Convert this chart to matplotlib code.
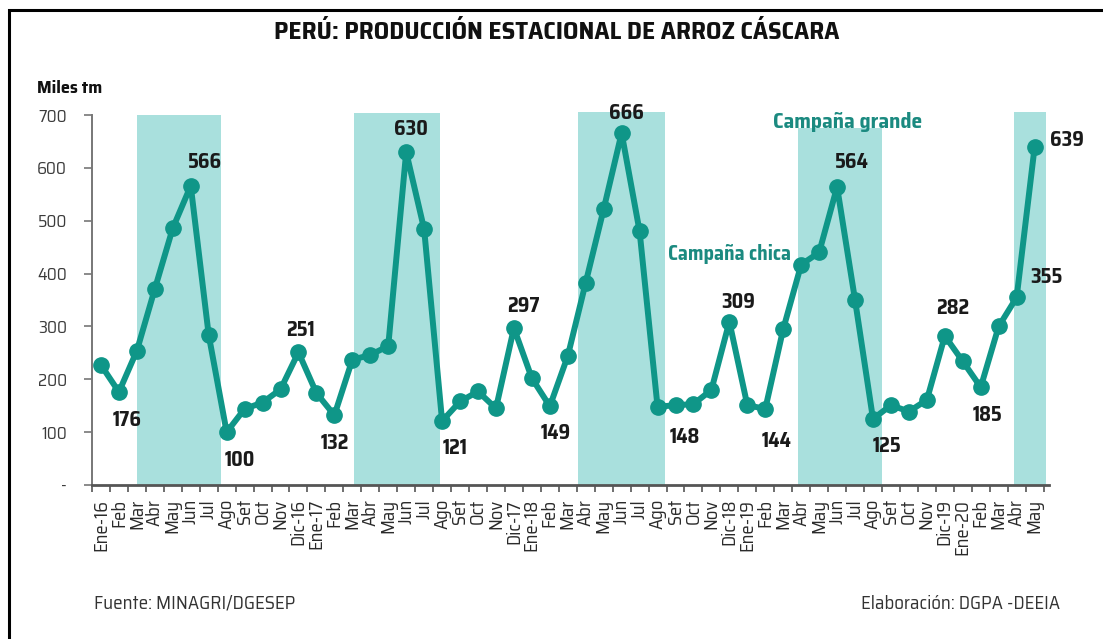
import matplotlib.pyplot as plt
from matplotlib import font_manager
from matplotlib.patches import Rectangle


# Datos: produccion mensual de arroz cascara (miles de t), Ene-16 a May-20
meses = ["Ene-16", "Feb", "Mar", "Abr", "May", "Jun", "Jul", "Ago", "Set", "Oct", "Nov", "Dic-16",
         "Ene-17", "Feb", "Mar", "Abr", "May", "Jun", "Jul", "Ago", "Set", "Oct", "Nov", "Dic-17",
         "Ene-18", "Feb", "Mar", "Abr", "May", "Jun", "Jul", "Ago", "Set", "Oct", "Nov", "Dic-18",
         "Ene-19", "Feb", "Mar", "Abr", "May", "Jun", "Jul", "Ago", "Set", "Oct", "Nov", "Dic-19",
         "Ene-20", "Feb", "Mar", "Abr", "May"]
produccion = [227, 176, 254, 371, 486, 566, 284, 100, 144, 156, 181, 251,
              174, 132, 237, 246, 263, 630, 484, 121, 158, 177, 145, 297,
              202, 149, 244, 383, 522, 666, 480, 148, 151, 153, 180, 309,
              151, 144, 295, 417, 440, 564, 350, 125, 151, 139, 161, 282,
              234, 185, 300, 355, 639]

# campañas grandes (inicio, fin en posicion de mes) y altura de la franja
campana_ini = [2.0, 14.1, 26.55, 38.85, 50.86]
campana_fin = [6.7, 18.9, 31.4, 43.5, 52.65]
campana_top = [700, 703, 706, 675, 706]

y_ticks = [0, 100, 200, 300, 400, 500, 600, 700]
y_labels = ["-", "100", "200", "300", "400", "500", "600", "700"]

# meses con etiqueta de dato
etiquetados = [1, 5, 7, 11, 13, 17, 19, 23, 25, 29, 31, 35, 37, 41, 43, 47, 49, 51, 52]

verde = "#0f9688"
franja = "#a9e0dd"


def peso(w):
    if isinstance(w, str):
        return font_manager.weight_dict.get(w, 400)
    return w


# buscar una fuente estrecha (parecida a Calibri) que tenga negrita
lista = font_manager.fontManager.ttflist
con_negrita = {f.name for f in lista if peso(f.weight) >= 600 and f.style == "normal"}
con_normal = {f.name for f in lista if 350 <= peso(f.weight) <= 500 and f.style == "normal"}
ok = sorted(con_negrita & con_normal)
fuente = "DejaVu Sans"
for clave in ["SemiCondensed", "Semi Condensed", "Condensed", "Narrow", "Cond"]:
    cand = [n for n in ok if clave in n and "Extra" not in n and "Ultra" not in n]
    if cand:
        fuente = cand[0]
        break
else:
    if "Roboto" in ok:
        fuente = "Roboto"
plt.rcParams["font.family"] = [fuente, "DejaVu Sans"]

fig = plt.figure(figsize=(11.03, 6.39), dpi=100)
ax = fig.add_axes([0.0834, 0.241, 0.8676, 0.579])

x = list(range(len(meses)))

# franjas de campaña grande
for a, b, t in zip(campana_ini, campana_fin, campana_top):
    ax.axvspan(a, b, ymin=0, ymax=t / 700, color=franja, lw=0, zorder=1, clip_on=False)

ax.plot(x, produccion, color=verde, lw=4.3, marker="o", ms=11, zorder=3, clip_on=False)

# posicion de etiquetas (pixeles respecto al punto)
desplaz = {1: (8, -28), 5: (14, 24), 7: (13, -28), 11: (2, 22), 13: (1, -28),
           17: (5, 23), 19: (13, -27), 23: (10, 22), 25: (6, -27), 29: (5, 20),
           31: (27, -30), 35: (9, 20), 37: (11, -32), 41: (15, 25), 43: (14, -27),
           47: (8, 28), 49: (7, -28), 51: (30, 20), 52: (32, 7)}
for i in etiquetados:
    dx, dy = desplaz[i]
    ax.annotate(str(produccion[i]), (i, produccion[i]), xytext=(dx, dy),
                textcoords="offset pixels", ha="center", va="center",
                fontsize=14.5, fontweight="bold", color="#1a1a1a", zorder=4,
                annotation_clip=False)

ax.text(730, 639 - 254, "Campaña chica", transform=None, fontsize=14.5, fontweight="bold",
        color="#1b8a80", ha="center", va="center")
ax.text(848, 639 - 122, "Campaña grande", transform=None, fontsize=15.5, fontweight="bold",
        color="#1b8a80", ha="center", va="center")

ax.set_xlim(-0.5, 52.8)
ax.set_ylim(0, 700)
ax.set_yticks(y_ticks)
ax.set_yticklabels(y_labels)
ax.set_xticks(x)
ax.set_xticklabels(meses, rotation=90)
ax.set_xticks([i - 0.5 for i in range(len(meses) + 1)], minor=True)
ax.tick_params(axis="x", which="major", length=0, pad=10, labelsize=13.5, labelcolor="#2a2a2a")
ax.tick_params(axis="x", which="minor", length=5, width=1.2, color="#555555")
ax.tick_params(axis="y", length=6, width=1.2, color="#777777", pad=12,
               labelsize=12.5, labelcolor="#3a3a3a")

for lado in ["top", "right"]:
    ax.spines[lado].set_visible(False)
ax.spines["left"].set_color("#777777")
ax.spines["left"].set_linewidth(1.4)
ax.spines["bottom"].set_color("#555555")
ax.spines["bottom"].set_linewidth(2)

fig.text(0.505, 1 - 32 / 639, "PERÚ: PRODUCCIÓN ESTACIONAL DE ARROZ CÁSCARA",
         ha="center", va="center", fontsize=18.2, fontweight="bold", color="#111111")
fig.text(37 / 1103, 1 - 88 / 639, "Miles tm", ha="left", va="center",
         fontsize=13, fontweight="bold", color="#111111")
fig.text(94 / 1103, 1 - 604 / 639, "Fuente: MINAGRI/DGESEP", ha="left", va="center",
         fontsize=13.7, color="#333333")
fig.text(1060 / 1103, 1 - 604 / 639, "Elaboración: DGPA -DEEIA", ha="right", va="center",
         fontsize=13.6, color="#333333")

# marco
fig.patches.append(Rectangle((8.5 / 1103, -0.1), 1.2, 1.1 - 9.5 / 639, transform=fig.transFigure,
                             fill=False, ec="black", lw=2.2))

fig.savefig("out.png", dpi=100)
